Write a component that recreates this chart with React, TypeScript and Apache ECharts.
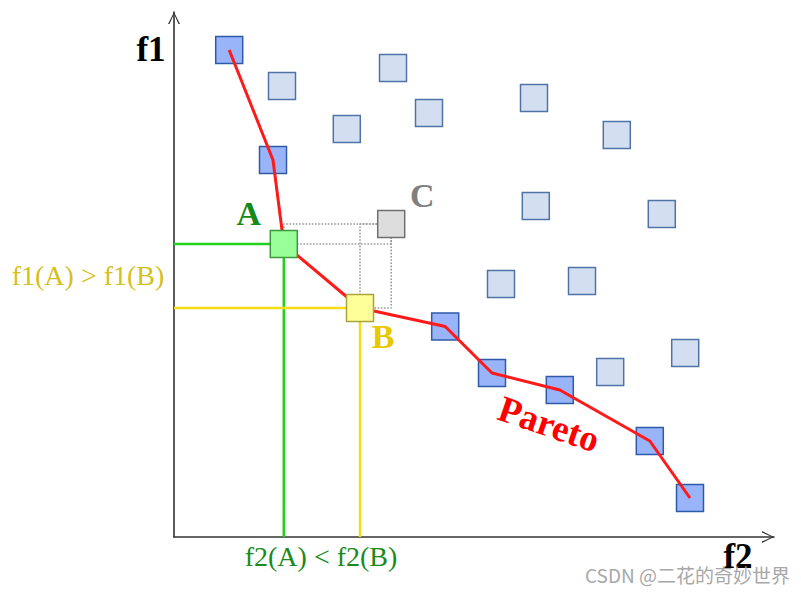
import React, { useEffect, useRef } from "react";
import * as echarts from "echarts";

// f2 (x) and f1 (y) values
const paretoF2 = [9.2, 16.5, 45.2, 53.0, 64.3, 79.3, 86.0];
const paretoF1 = [97.4, 75.4, 42.1, 32.8, 29.4, 19.2, 7.8];
const otherF2 = [18.0, 28.8, 36.5, 42.5, 60.0, 73.8, 60.3, 81.3, 54.5, 68.0, 72.7, 85.2];
const otherF1 = [90.2, 81.6, 93.8, 84.8, 87.8, 80.4, 66.2, 64.6, 50.6, 51.2, 33.0, 36.8];
const pointA = [18.3, 58.6];
const pointB = [31.0, 45.8];
const pointC = [36.2, 62.6];
const frontF2 = [9.2, 16.5, 18.3, 31.0, 45.2, 53.0, 64.3, 79.3, 86.0];
const frontF1 = [97.4, 75.4, 58.6, 45.8, 42.1, 32.8, 29.4, 19.2, 7.8];

const ARROW = "path://M6,0 L12,12 L10.5,12 L6,2 L1.5,12 L0,12 Z";
const SERIF = '"Liberation Serif", "DejaVu Serif", serif';

export default function App() {
  const ref = useRef<HTMLDivElement>(null);
  useEffect(() => {
    if (!ref.current) return;
    const chart = echarts.init(ref.current, null, { renderer: "svg" });
    const axisCommon = (max: number) => ({
      type: "value",
      min: 0,
      max,
      axisLine: {
        show: true,
        onZero: false,
        lineStyle: { color: "#333333", width: 1.6 },
        symbol: ["none", ARROW],
        symbolSize: [12, 13],
        symbolOffset: [0, -6],
      },
      axisTick: { show: false },
      axisLabel: { show: false },
      splitLine: { show: false },
    });
    const sq = (fill: string, border: string) => ({
      color: fill,
      borderColor: border,
      borderWidth: 1.5,
      opacity: 1,
    });
    const bigLabel = (text: string, color: string, offset: number[]) => ({
      show: true,
      formatter: text,
      position: "inside",
      offset,
      color,
      fontFamily: SERIF,
      fontWeight: "bold",
      fontSize: 34,
    });
    const option: any = {
      animation: false,
      grid: { left: 174, right: 27, top: 12, bottom: 55 },
      xAxis: axisCommon(100),
      yAxis: axisCommon(105),
      series: [
        {
          type: "line",
          z: 1,
          symbol: "none",
          silent: true,
          lineStyle: { color: "#1ed21e", width: 2.5 },
          data: [[0, pointA[1]], [pointA[0], pointA[1]], [pointA[0], 0]],
        },
        {
          type: "line",
          z: 1,
          symbol: "none",
          silent: true,
          lineStyle: { color: "#f5dc14", width: 2.5 },
          data: [[0, pointB[1]], [pointB[0], pointB[1]], [pointB[0], 0]],
        },
        {
          type: "line",
          z: 1,
          symbol: "none",
          silent: true,
          lineStyle: { color: "#9a9a9a", width: 1.6, type: "dotted" },
          data: [
            [pointA[0], pointA[1]],
            [pointA[0], pointC[1]],
            [pointC[0], pointC[1]],
            [pointC[0], pointA[1]],
            [pointA[0], pointA[1]],
          ],
        },
        {
          type: "line",
          z: 1,
          symbol: "none",
          silent: true,
          lineStyle: { color: "#9a9a9a", width: 1.6, type: "dotted" },
          data: [
            [pointB[0], pointB[1]],
            [pointB[0], pointC[1]],
            [pointC[0], pointC[1]],
            [pointC[0], pointB[1]],
            [pointB[0], pointB[1]],
          ],
        },
        {
          type: "scatter",
          z: 2,
          symbol: "rect",
          symbolSize: 27,
          itemStyle: sq("#d3dff0", "#4f73a6"),
          data: otherF2.map((x, i) => [x, otherF1[i]]),
        },
        {
          type: "scatter",
          z: 2,
          symbol: "rect",
          symbolSize: 27,
          itemStyle: sq("#99b4f8", "#2f5aa8"),
          data: paretoF2.map((x, i) => [x, paretoF1[i]]),
        },
        {
          type: "line",
          z: 3,
          symbol: "none",
          lineStyle: { color: "#ff1a1a", width: 3 },
          data: frontF2.map((x, i) => [x, frontF1[i]]),
        },
        {
          type: "scatter",
          z: 4,
          symbol: "rect",
          symbolSize: 27,
          itemStyle: sq("#99ff99", "#3c9a3c"),
          label: bigLabel("A", "#168a16", [-35, -31]),
          data: [pointA],
        },
        {
          type: "scatter",
          z: 4,
          symbol: "rect",
          symbolSize: 27,
          itemStyle: sq("#ffff99", "#a9a43c"),
          label: bigLabel("B", "#e8c800", [23, 28]),
          data: [pointB],
        },
        {
          type: "scatter",
          z: 4,
          symbol: "rect",
          symbolSize: 27,
          itemStyle: sq("#dddddd", "#707070"),
          label: bigLabel("C", "#808080", [31, -29]),
          data: [pointC],
        },
      ],
      graphic: [
        {
          type: "text",
          x: 151,
          y: 49,
          style: { text: "f1", fill: "#000", font: `bold 35px ${SERIF}`, textAlign: "center", textVerticalAlign: "middle" },
        },
        {
          type: "text",
          x: 738,
          y: 556,
          style: { text: "f2", fill: "#000", font: `bold 35px ${SERIF}`, textAlign: "center", textVerticalAlign: "middle" },
        },
        {
          type: "text",
          x: 88,
          y: 275,
          style: { text: "f1(A) > f1(B)", fill: "#d4c01e", font: `28px ${SERIF}`, textAlign: "center", textVerticalAlign: "middle" },
        },
        {
          type: "text",
          x: 321,
          y: 556,
          style: { text: "f2(A) < f2(B)", fill: "#1a8a1a", font: `28px ${SERIF}`, textAlign: "center", textVerticalAlign: "middle" },
        },
        {
          type: "text",
          x: 549,
          y: 424,
          rotation: -0.33,
          style: { text: "Pareto", fill: "#ff0000", font: `bold 37px ${SERIF}`, textAlign: "center", textVerticalAlign: "middle" },
        },
        {
          type: "text",
          x: 585,
          y: 574,
          style: { text: "CSDN @二花的奇妙世界", fill: "#a8a8a8", font: `19px "Noto Sans CJK SC", "Noto Sans", sans-serif`, textAlign: "left", textVerticalAlign: "middle" },
        },
      ],
    };
    chart.setOption(option);
    return () => chart.dispose();
  }, []);
  return (
    <div
      ref={ref}
      style={{ position: "fixed", left: 0, top: 0, width: 801, height: 592, background: "#fff" }}
    />
  );
}
